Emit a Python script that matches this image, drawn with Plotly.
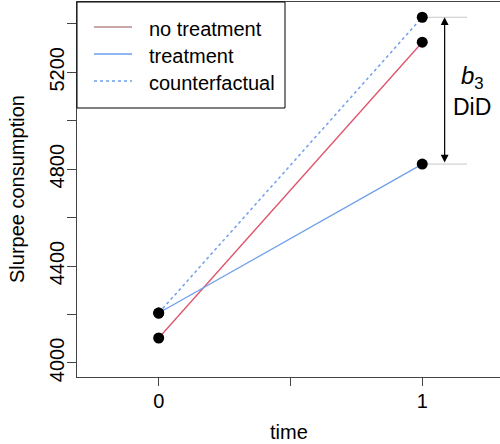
import plotly.graph_objects as go

time = [0, 1]
no_treatment = [4103, 5324]
treatment = [4206, 4821]
counterfactual = [4206, 5427]
series_names = ["no treatment", "treatment", "counterfactual"]
y_ticks = [4000, 4200, 4400, 4600, 4800, 5000, 5200, 5400]
y_ticklabels = ["4000", "", "4400", "", "4800", "", "5200", ""]
x_ticks = [0, 0.5, 1]
x_ticklabels = ["0", "", "1"]

RED = "#df536b"
BLUE = "#6fa0ec"
LEG_RED = "#b58a8a"
FONT = "Liberation Sans, Arial, sans-serif"
FS = 20

W, H = 500, 444
ML, MR, MT, MB = 77, 0, 2, 67
PW, PH = W - ML - MR, H - MT - MB


def px(xp):
    return (xp - ML) / PW


def py(yp):
    return 1 - (yp - MT) / PH


fig = go.Figure()
fig.add_trace(go.Scatter(x=time, y=counterfactual, mode="lines",
                         line=dict(color=BLUE, width=1.5, dash="dot"), showlegend=False))
fig.add_trace(go.Scatter(x=time, y=no_treatment, mode="lines",
                         line=dict(color=RED, width=1.3), showlegend=False))
fig.add_trace(go.Scatter(x=time, y=treatment, mode="lines",
                         line=dict(color=BLUE, width=1.3), showlegend=False))
for ys in (no_treatment, treatment, counterfactual):
    fig.add_trace(go.Scatter(x=time, y=ys, mode="markers",
                             marker=dict(color="black", size=11), showlegend=False))

# manual legend (box, keys, labels)
fig.add_shape(type="rect", xref="paper", yref="paper", x0=0, x1=px(285),
              y0=py(108), y1=1, line=dict(color="black", width=1),
              fillcolor="white", layer="above")
leg_styles = [dict(color=LEG_RED, width=1.5), dict(color=BLUE, width=1.5),
              dict(color=BLUE, width=1.5, dash="dot")]
for i, (name, st) in enumerate(zip(series_names, leg_styles)):
    yy = 27 + 27 * i
    fig.add_shape(type="line", xref="paper", yref="paper", x0=px(94), x1=px(132),
                  y0=py(yy), y1=py(yy), line=st, layer="above")
    fig.add_annotation(xref="paper", yref="paper", x=px(147), y=py(yy + 2),
                       xanchor="left", yanchor="middle", text=name, showarrow=False,
                       font=dict(size=FS, color="black", family=FONT))

# gray reference lines
for yv in (counterfactual[1], treatment[1]):
    fig.add_shape(type="line", x0=1.0, x1=1.17, y0=yv, y1=yv,
                  line=dict(color="#c8c8c8", width=1), layer="below")

# double arrow
fig.add_annotation(x=1.085, y=counterfactual[1], ax=1.085, ay=treatment[1],
                   xref="x", yref="y", axref="x", ayref="y", text="",
                   showarrow=True, arrowhead=2, startarrowhead=2, arrowside="end+start",
                   arrowsize=1.3, arrowwidth=1.2, arrowcolor="black")
fig.add_annotation(x=1.19, y=5178, xref="x", yref="y", text="<i>b</i><sub>3</sub>",
                   showarrow=False, font=dict(size=24, color="black", family=FONT))
fig.add_annotation(x=1.19, y=5058, xref="x", yref="y", text="DiD",
                   showarrow=False, font=dict(size=23, color="black", family=FONT))

# axis titles
fig.add_annotation(xref="paper", yref="paper", x=0.5, y=py(432), text="time",
                   xanchor="center", yanchor="middle", showarrow=False,
                   font=dict(size=FS, color="black", family=FONT))
fig.add_annotation(xref="paper", yref="paper", x=px(16.5), y=0.5, text="Slurpee consumption",
                   textangle=-90, xanchor="center", yanchor="middle", showarrow=False,
                   font=dict(size=FS, color="black", family=FONT))

fig.update_layout(
    width=W, height=H,
    margin=dict(l=ML, r=MR, t=MT, b=MB, autoexpand=False),
    plot_bgcolor="white", paper_bgcolor="white",
    font=dict(family=FONT, size=FS, color="black"),
    showlegend=False,
    xaxis=dict(range=[-0.31, 1.295], tickvals=x_ticks, ticktext=x_ticklabels,
               ticks="outside", ticklen=8, tickcolor="#444", showgrid=False, automargin=False,
               ticklabelstandoff=-2,
               zeroline=False, showline=True, linecolor="#444", linewidth=1.2, mirror=True),
    yaxis=dict(range=[3942, 5490], tickvals=y_ticks, ticktext=y_ticklabels,
               tickangle=-90, ticks="outside", ticklen=9, tickcolor="#444", showgrid=False,
               automargin=False, ticklabelstandoff=-5,
               zeroline=False, showline=True, linecolor="#444", linewidth=1.2, mirror=True),
)

fig.write_html("out.html", config={"displayModeBar": False},
               post_script="document.body.style.margin='0px';")
